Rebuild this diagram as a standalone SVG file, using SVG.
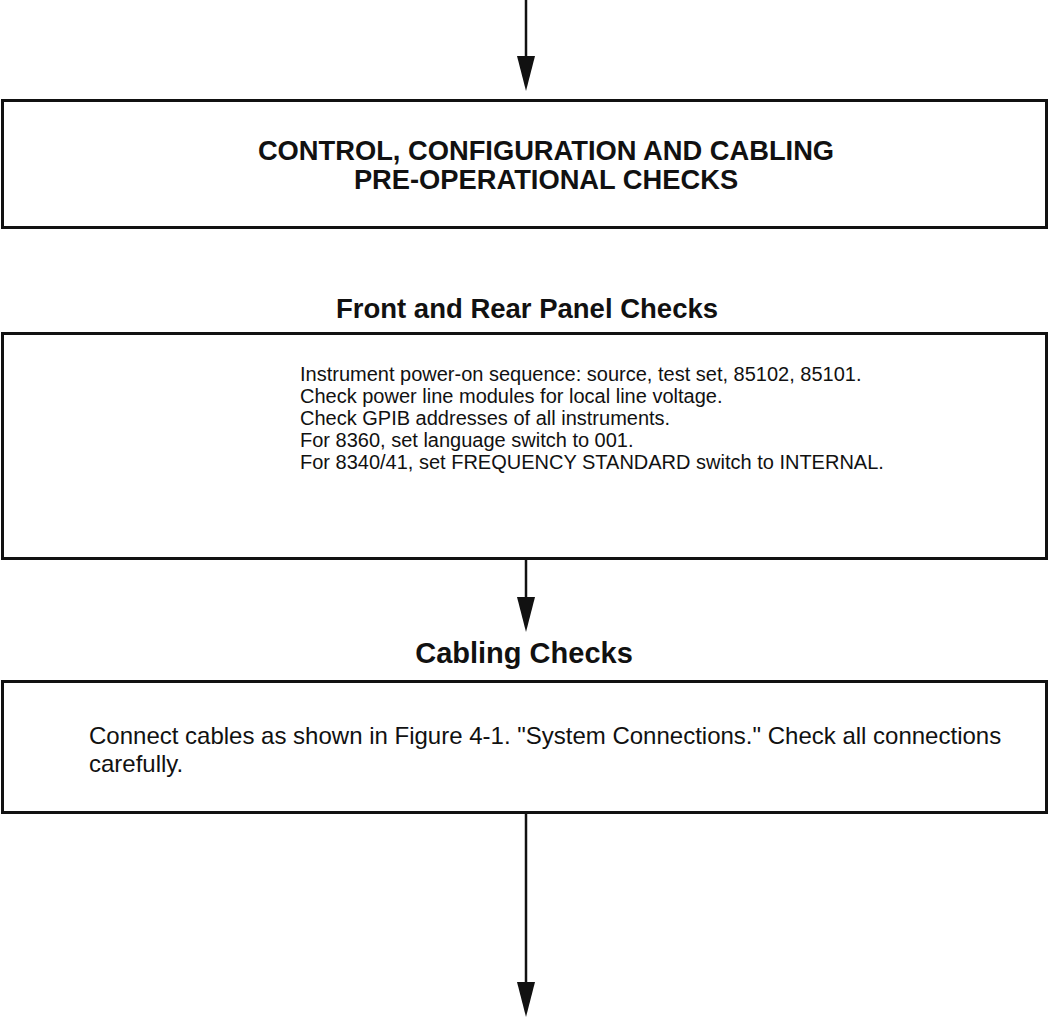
<svg xmlns="http://www.w3.org/2000/svg" width="1049" height="1017" viewBox="0 0 1049 1017">
<style>
.box{fill:#fff;stroke:#111;stroke-width:3}
.line{stroke:#111;stroke-width:2.5;fill:none}
.head{fill:#111}
.title{font-family:"Liberation Sans",Arial,sans-serif;font-weight:bold;font-size:27.3px;fill:#111;text-anchor:middle}
.hdr{font-family:"Liberation Sans",Arial,sans-serif;font-weight:bold;font-size:29px;fill:#111;text-anchor:middle}
.body{font-family:"Liberation Sans",Arial,sans-serif;font-size:20px;fill:#111}
.body2{font-family:"Liberation Sans",Arial,sans-serif;font-size:24px;fill:#111}
</style>
<rect width="1049" height="1017" fill="#fff"/>
<g id="connectors">
<line class="line" x1="526" y1="0" x2="526" y2="57"/>
<path class="head" d="M517,56 L535,56 L526,91 Z"/>
<line class="line" x1="526" y1="560" x2="526" y2="598"/>
<path class="head" d="M517,597 L535,597 L526,632 Z"/>
<line class="line" x1="526" y1="813" x2="526" y2="983"/>
<path class="head" d="M517,982 L535,982 L526,1017 Z"/>
</g>
<g id="node-control">
<rect class="box" x="2.5" y="100.5" width="1044" height="127"/>
<text class="title" x="546" y="160">CONTROL, CONFIGURATION AND CABLING</text>
<text class="title" x="546" y="189">PRE-OPERATIONAL CHECKS</text>
</g>
<g id="node-panel">
<text class="hdr" x="527" y="318" style="font-size:27.5px">Front and Rear Panel Checks</text>
<rect class="box" x="2.5" y="333.5" width="1044" height="225"/>
<text class="body" x="300" y="381">Instrument power-on sequence: source, test set, 85102, 85101.</text>
<text class="body" x="300" y="403">Check power line modules for local line voltage.</text>
<text class="body" x="300" y="425">Check GPIB addresses of all instruments.</text>
<text class="body" x="300" y="447">For 8360, set language switch to 001.</text>
<text class="body" x="300" y="469">For 8340/41, set FREQUENCY STANDARD switch to INTERNAL.</text>
</g>
<g id="node-cabling">
<text class="hdr" x="524" y="663">Cabling Checks</text>
<rect class="box" x="2.5" y="681.5" width="1044" height="131"/>
<text class="body2" x="89" y="744">Connect cables as shown in Figure 4-1. "System Connections." Check all connections</text>
<text class="body2" x="89" y="772">carefully.</text>
</g>
</svg>
